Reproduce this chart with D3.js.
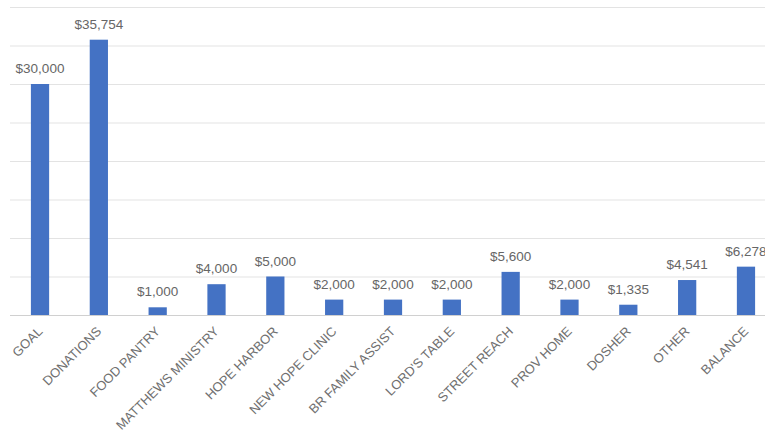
<!DOCTYPE html>
<html>
<head>
<meta charset="utf-8">
<script src="https://cdn.jsdelivr.net/npm/d3@7"></script>
<style>
  body { margin: 0; background: #fff; }
  svg { display: block; font-family: "Liberation Sans", Arial, sans-serif; }
</style>
</head>
<body>
<script>
// categories and amounts
const categories = ["GOAL", "DONATIONS", "FOOD PANTRY", "MATTHEWS MINISTRY", "HOPE HARBOR",
  "NEW HOPE CLINIC", "BR FAMILY ASSIST", "LORD'S TABLE", "STREET REACH", "PROV HOME",
  "DOSHER", "OTHER", "BALANCE"];
const amounts = [30000, 35754, 1000, 4000, 5000, 2000, 2000, 2000, 5600, 2000, 1335, 4541, 6278];
const gridTicks = [0, 5000, 10000, 15000, 20000, 25000, 30000, 35000, 40000];

const width = 765;
const height = 433;

const data = categories.map((c, i) => ({ name: c, value: amounts[i] }));

const svg = d3.select("body").append("svg")
    .attr("width", width)
    .attr("height", height);

const x = d3.scaleBand()
    .domain(categories)
    .range([10.6, 775.4])
    .paddingInner(0.69)
    .paddingOuter(0.345);

const y = d3.scaleLinear()
    .domain([0, 40000])
    .range([315, 7]);

const fmt = d3.format("$,");

// gridlines
svg.append("g")
    .selectAll("line")
    .data(gridTicks)
    .enter().append("line")
    .attr("x1", 10)
    .attr("x2", width)
    .attr("y1", d => y(d) + 0.5)
    .attr("y2", d => y(d) + 0.5)
    .attr("stroke", d => d === 0 ? "#d0d0d0" : "#e3e3e3")
    .attr("stroke-width", 1);

// bars
svg.append("g")
    .selectAll("rect")
    .data(data)
    .enter().append("rect")
    .attr("x", d => x(d.name))
    .attr("y", d => y(d.value))
    .attr("width", x.bandwidth())
    .attr("height", d => y(0) - y(d.value))
    .attr("fill", "#4472c4");

// value labels
svg.append("g")
    .selectAll("text")
    .data(data)
    .enter().append("text")
    .attr("x", d => x(d.name) + x.bandwidth() / 2)
    .attr("y", d => y(d.value) - 11)
    .attr("text-anchor", "middle")
    .attr("font-size", 13.5)
    .attr("fill", "#666")
    .text(d => fmt(d.value));

// category labels, rotated
svg.append("g")
    .selectAll("text")
    .data(data)
    .enter().append("text")
    .attr("transform", d => `translate(${x(d.name) + x.bandwidth() / 2},${329}) rotate(-45)`)
    .attr("text-anchor", "end")
    .attr("dy", "0.35em")
    .attr("font-size", 13)
    .attr("fill", "#707070")
    .text(d => d.name);
</script>
</body>
</html>
